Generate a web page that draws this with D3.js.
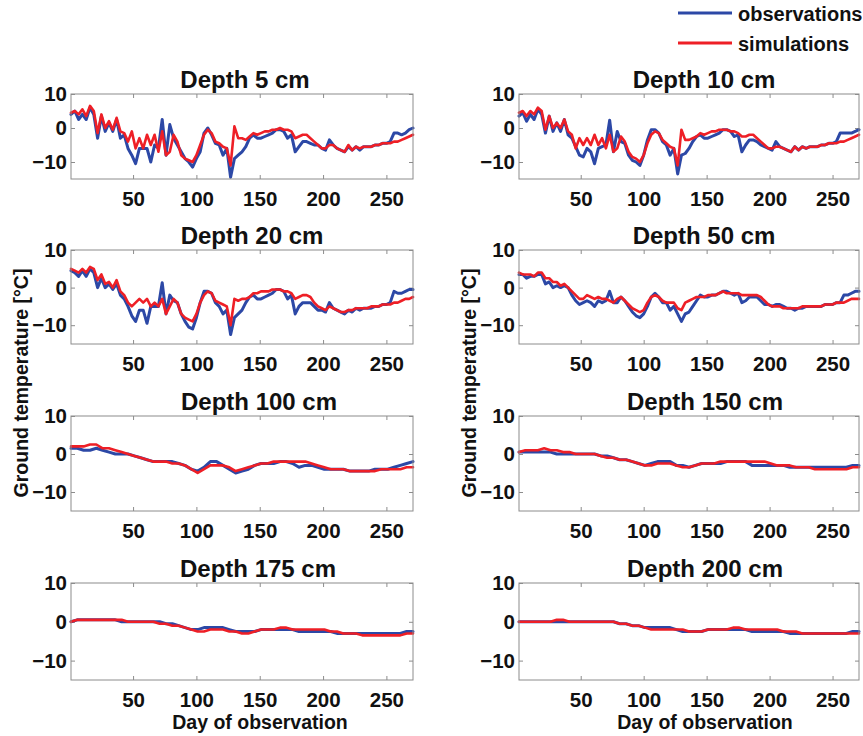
<!DOCTYPE html>
<html>
<head>
<meta charset="utf-8">
<script src="https://cdn.jsdelivr.net/npm/d3@7"></script>
<style>
  html, body { margin: 0; padding: 0; background: #fff; }
  svg { display: block; font-family: "Liberation Sans", Arial, Helvetica, sans-serif; font-weight: bold; }
</style>
</head>
<body>
<svg id="chart" width="863" height="736"></svg>
<script>
// ---- data -----------------------------------------------------------------
// shallow sensors sampled every 3 days, deep sensors every 5 days (day 1..271)
const fineDays   = d3.range(1, 272, 3);
const coarseDays = d3.range(1, 272, 5);

const xTicks = [50, 100, 150, 200, 250];
const yTicks = [10, 0, -10];
const dayDomain  = [1, 271];
const tempDomain = [-15, 10];

const seriesNames = ["observations", "simulations"];
const panelTitles = ["Depth 5 cm", "Depth 10 cm", "Depth 20 cm", "Depth 50 cm",
                     "Depth 100 cm", "Depth 150 cm", "Depth 175 cm", "Depth 200 cm"];

const obs5 = [
  4, 5, 2.5, 4, 2.5, 6, 4, -3, 3.5, -1,
  1.5, -1, 2.5, -3, -2, -6, -8, -10.5, -6, -6,
  -6, -10, -5, -6, 2.5, -8, 1, -3, -5, -7,
  -9, -10, -11.5, -9, -7, -1.5, 0, -2, -4.5, -5,
  -8, -6, -14.5, -9, -8, -7, -5.5, -3, -2, -3,
  -3, -2.5, -2, -1.5, -0.5, -0.5, -1, -3, -2, -7,
  -5.5, -4, -4, -4.5, -5, -5, -6, -6.5, -3.5, -5,
  -6, -6.5, -7, -5.5, -6.5, -5.5, -6.5, -5.5, -5.5, -5.5,
  -5, -5, -4.5, -4.5, -4, -1.5, -1.5, -2, -1.5, -0.5,
  0];
const sim5 = [
  4.5, 5, 4, 5.5, 3.5, 6.5, 5, -1.5, 4, 0,
  2, -0.5, 3, -1, -1.5, -4, -1, -6, -3, -6,
  -2, -5, -2, -7, -1, -8, -7, -2, -4, -8,
  -9, -9.5, -10, -8, -5, -2, -0.5, -1.5, -4, -4.5,
  -5.5, -6, -11, 0.5, -3, -3, -3.5, -2.5, -1.5, -2,
  -1.5, -1, -1, -0.5, -0.5, 0, -0.5, -0.5, -1, -3,
  -2.5, -2, -2, -3, -4, -5, -6, -6, -5, -5,
  -6, -6.5, -7, -5, -6.5, -5.5, -6, -5.5, -5.5, -5.5,
  -5, -5, -4.5, -4.5, -4.5, -4, -4, -3.5, -3, -2.5,
  -2];

const obs10 = [
  3.5, 4.5, 2, 4, 2.5, 5.5, 4, -1.5, 3.5, -1,
  1.5, -1, 2.5, -2, -3, -5.5, -8, -8.5, -6, -7,
  -10.5, -6, -5.5, -5, 2.3, -7, -1, -4, -4.5, -8,
  -9.5, -10, -11, -8, -3.5, -0.5, -0.5, -1.5, -4, -5,
  -8, -6, -13.5, -8, -7.5, -6, -4, -2.5, -2, -3,
  -3, -2.5, -2, -1.5, -0.5, -0.5, -1, -2.5, -2, -7,
  -5, -3.5, -3.5, -4, -5, -5.5, -6, -6.5, -4, -5.5,
  -6, -6.5, -7, -5.5, -6.5, -5.5, -6, -5.5, -5.5, -5.5,
  -5, -5, -4.5, -4.5, -4, -1.5, -1.5, -1.5, -1.5, -1,
  -0.5];
const sim10 = [
  4.5, 5, 3.5, 5, 4, 6, 5, -0.5, 3.5, 0,
  1.5, 0, 2.5, -1, -2, -6, -3, -5, -3, -5,
  -2, -5, -3, -6, -2, -7, -6, -2.5, -4, -7,
  -8.5, -9, -10, -8, -4.5, -2, -1, -1.5, -3.5, -4.5,
  -5.5, -6, -11, -0.5, -3.5, -3.5, -3, -2.5, -1.5, -2,
  -1.5, -1, -1, -0.5, -0.5, -0.5, -1, -1, -1.5, -2.5,
  -2.5, -2, -2, -3, -4, -5, -6, -6, -5.5, -5.5,
  -6, -6.5, -7, -5.5, -6.5, -5.5, -6, -5.5, -5.5, -5.5,
  -5, -5, -4.5, -4.5, -4.5, -4, -4, -3.5, -3, -2.5,
  -2];

const obs20 = [
  4.5, 4, 3, 4.5, 3, 5, 4, 0, 2.5, 0,
  1, -0.5, 1, -2, -3, -5, -7.5, -9, -6, -6,
  -9.5, -5, -5, -5, 1.3, -7, -2, -3.5, -4, -7,
  -9, -10.5, -11, -8, -4, -1, -1, -1.5, -4, -5,
  -7, -6, -12.5, -8, -7, -6, -4, -2.5, -2, -3,
  -3, -2.5, -2, -1.5, -0.5, -0.5, -1, -3, -2, -7,
  -5, -4, -4, -4, -5, -6, -6, -6.5, -4, -5.5,
  -6, -6.5, -7, -6, -6.5, -5.5, -6, -5.5, -5.5, -5.5,
  -5, -5, -4.5, -4.5, -4, -1, -1.5, -1.5, -1, -0.5,
  -0.5];
const sim20 = [
  5, 4.5, 4, 5, 4, 5.5, 5, 2, 3.5, 1,
  1.5, 0, 2, -1, -2, -4, -5, -4, -3, -4,
  -3, -5, -4, -5, -3, -7, -5, -3, -4, -7,
  -8, -8.5, -9, -7, -4, -2, -1, -1.5, -3.5, -4,
  -4.5, -5, -10, -3, -3.5, -3, -3, -2.5, -1.5, -1.5,
  -1, -1, -1, -0.5, -0.5, -0.5, -1, -1, -1.5, -3,
  -2.5, -2, -2, -2.5, -4, -5, -5.5, -6, -5, -5.5,
  -6, -6.5, -6.5, -6, -6, -5.5, -5.5, -5.5, -5.5, -5,
  -5, -5, -4.5, -4.5, -4.5, -4, -4, -3.5, -3, -3,
  -2.5];

const obs50 = [
  3.5, 3.5, 2.5, 3, 3, 3.5, 3.5, 1, 1.5, 0,
  0.5, 0, 0.5, 0, -2, -3.5, -4.5, -4, -3.5, -4,
  -5, -3.5, -4, -3.5, -1, -4, -4, -2.5, -3.5, -5,
  -6.5, -7.5, -8, -7, -5, -2.5, -1.5, -2.5, -4, -4,
  -6, -5, -7, -9, -7, -6.5, -5, -3.5, -2, -2.5,
  -2.5, -2, -2, -1.5, -1, -1, -1.5, -2, -1.5, -4,
  -3.5, -2.5, -2.5, -2.5, -3.5, -4.5, -4.5, -5, -4.5, -4.5,
  -5, -5.5, -5.5, -6, -5.5, -5.5, -5, -5, -5, -5,
  -5, -4.5, -4.5, -4.5, -4, -4, -2, -2, -1.5, -1,
  -1];
const sim50 = [
  4, 3.5, 3.5, 3.5, 3, 4, 4, 2.5, 2.5, 1.5,
  1.5, 0.5, 1, 0, -1, -2, -3, -3, -2, -2.5,
  -3, -2.5, -3, -3, -3.5, -4, -3, -2.5, -3.5, -4.5,
  -5.5, -6, -6.5, -6, -4, -2.5, -2, -2.5, -3.5, -4,
  -4, -4, -5.5, -6, -4, -3.5, -3, -2.5, -2.5, -2.5,
  -2, -2, -2, -1.5, -1, -1.5, -1.5, -1.5, -1.5, -2,
  -2, -2, -2, -2, -2.5, -3.5, -4.5, -5, -5, -5,
  -5.5, -5.5, -5.5, -5.5, -5.5, -5, -5, -5, -5, -5,
  -5, -4.5, -4.5, -4.5, -4, -4, -4, -3.5, -3, -3,
  -3];

const obs100 = [
  1.5, 1.5, 1, 1, 1.5, 1, 0.5, 0, 0, 0,
  -0.5, -1, -1.5, -2, -2, -2, -2, -2.5, -3, -4,
  -4.5, -3.5, -2, -2, -3, -4, -5, -4.5, -4, -3,
  -2.5, -2.5, -2.5, -2, -2, -2.5, -3.5, -3, -3, -3.5,
  -4, -4, -4, -4, -4.5, -4.5, -4.5, -4.5, -4, -4,
  -4, -3.5, -3, -2.5, -2];
const sim100 = [
  2, 2, 2, 2.5, 2.5, 1.5, 1.5, 1, 0.5, 0,
  -0.5, -1, -1.5, -2, -2, -2, -2.5, -2.5, -3, -4,
  -5, -4, -3, -3, -3, -3.5, -4.5, -4, -3.5, -3,
  -2.5, -2.5, -2, -2, -2, -2, -2, -2, -2.5, -3,
  -3.5, -4, -4, -4, -4.5, -4.5, -4.5, -4.5, -4.5, -4,
  -4, -4, -4, -3.5, -3.5];

const obs150 = [
  0.5, 0.5, 0.5, 0.5, 0.5, 0.5, 0, 0, 0, 0,
  0, 0, 0, -0.5, -0.5, -1, -1.5, -1.5, -2, -2.5,
  -3, -2.5, -2, -2, -2, -3, -3, -3.5, -3, -2.5,
  -2.5, -2.5, -2.5, -2, -2, -2, -2, -3, -3, -3,
  -3, -3, -3, -3.5, -3.5, -3.5, -3.5, -3.5, -3.5, -3.5,
  -3.5, -3.5, -3.5, -3, -3];
const sim150 = [
  0.5, 1, 1, 1, 1.5, 1, 1, 0.5, 0.5, 0,
  0, 0, 0, -0.5, -1, -1, -1.5, -1.5, -2, -2.5,
  -3, -3, -2.5, -2.5, -2.5, -3, -3.5, -3.5, -3, -2.5,
  -2.5, -2.5, -2, -2, -2, -2, -2, -2, -2, -2,
  -2.5, -3, -3, -3, -3.5, -3.5, -3.5, -4, -4, -4,
  -4, -4, -4, -3.5, -3.5];

const obs175 = [
  0, 0.5, 0.5, 0.5, 0.5, 0.5, 0.5, 0.5, 0, 0,
  0, 0, 0, 0, 0, -0.5, -0.5, -1, -1.5, -2,
  -2, -1.5, -1.5, -1.5, -1.5, -2, -2.5, -2.5, -2.5, -2.5,
  -2, -2, -2, -2, -2, -2, -2.5, -2.5, -2.5, -2.5,
  -2.5, -2.5, -3, -3, -3, -3, -3, -3, -3, -3,
  -3, -3, -3, -2.5, -2.5];
const sim175 = [
  0, 0.5, 0.5, 0.5, 0.5, 0.5, 0.5, 0.5, 0.5, 0,
  0, 0, 0, 0, -0.5, -0.5, -1, -1, -1.5, -2,
  -2.5, -2.5, -2, -2, -2, -2.5, -2.5, -3, -3, -2.5,
  -2, -2, -2, -1.5, -1.5, -2, -2, -2, -2, -2,
  -2, -2.5, -2.5, -3, -3, -3, -3.5, -3.5, -3.5, -3.5,
  -3.5, -3.5, -3.5, -3, -3];

const obs200 = [
  0, 0, 0, 0, 0, 0, 0, 0, 0, 0,
  0, 0, 0, 0, 0, 0, -0.5, -0.5, -1, -1,
  -1.5, -1.5, -1.5, -1.5, -1.5, -2, -2.5, -2.5, -2.5, -2.5,
  -2, -2, -2, -2, -2, -2, -2, -2.5, -2.5, -2.5,
  -2.5, -2.5, -2.5, -3, -3, -3, -3, -3, -3, -3,
  -3, -3, -3, -2.5, -2.5];
const sim200 = [
  0, 0, 0, 0, 0, 0, 0.5, 0.5, 0, 0,
  0, 0, 0, 0, 0, 0, -0.5, -0.5, -1, -1,
  -1.5, -2, -2, -2, -2, -2, -2, -2.5, -2.5, -2.5,
  -2, -2, -2, -2, -1.5, -1.5, -2, -2, -2, -2,
  -2, -2, -2.5, -2.5, -2.5, -3, -3, -3, -3, -3,
  -3, -3, -3, -3, -3];

// ---- layout ---------------------------------------------------------------
const W = 863, H = 736;
const colX = [[71, 413], [519, 859]];
const rowY = [[94, 179], [250, 344], [416, 511], [583, 680]];
const titleX = [245, 704, 252, 704, 259, 705, 258, 705];
const xLabelX = [260, 705];
const colors = { obs: "#2c48a6", sim: "#ee1f26", frame: "#8c8c8c", text: "#111" };

const panels = [
  { title: panelTitles[0], days: fineDays,   obs: obs5,   sim: sim5,   col: 0, row: 0 },
  { title: panelTitles[1], days: fineDays,   obs: obs10,  sim: sim10,  col: 1, row: 0 },
  { title: panelTitles[2], days: fineDays,   obs: obs20,  sim: sim20,  col: 0, row: 1 },
  { title: panelTitles[3], days: fineDays,   obs: obs50,  sim: sim50,  col: 1, row: 1 },
  { title: panelTitles[4], days: coarseDays, obs: obs100, sim: sim100, col: 0, row: 2 },
  { title: panelTitles[5], days: coarseDays, obs: obs150, sim: sim150, col: 1, row: 2 },
  { title: panelTitles[6], days: coarseDays, obs: obs175, sim: sim175, col: 0, row: 3 },
  { title: panelTitles[7], days: coarseDays, obs: obs200, sim: sim200, col: 1, row: 3 }
];

const svg = d3.select("#chart");
svg.append("rect").attr("width", W).attr("height", H).attr("fill", "#fff");

const tickFont = "20.5px";

panels.forEach((p, k) => {
  const [x0, x1] = colX[p.col];
  const [y0, y1] = rowY[p.row];
  const x = d3.scaleLinear().domain(dayDomain).range([x0, x1]);
  const y = d3.scaleLinear().domain(tempDomain).range([y1, y0]);
  const g = svg.append("g");

  g.append("rect")
    .attr("x", x0).attr("y", y0).attr("width", x1 - x0).attr("height", y1 - y0)
    .attr("fill", "#fff");

  // axes with inward ticks on all four sides
  const styleAxis = sel => {
    sel.select(".domain").remove();
    sel.selectAll(".tick line").attr("stroke", colors.frame).attr("stroke-width", 1);
    sel.selectAll(".tick text")
      .attr("fill", colors.text).style("font-size", tickFont).style("font-weight", "bold")
      .attr("font-family", null);
  };
  g.append("g").attr("transform", `translate(0,${y1})`)
    .call(d3.axisBottom(x).tickValues(xTicks).tickSize(-4).tickPadding(12))
    .call(styleAxis);
  g.append("g").attr("transform", `translate(0,${y0})`)
    .call(d3.axisTop(x).tickValues(xTicks).tickSize(-4).tickFormat(""))
    .call(styleAxis);
  g.append("g").attr("transform", `translate(${x0},0)`)
    .call(d3.axisLeft(y).tickValues(yTicks).tickSize(-4).tickPadding(4))
    .call(styleAxis);
  g.append("g").attr("transform", `translate(${x1},0)`)
    .call(d3.axisRight(y).tickValues(yTicks).tickSize(-4).tickFormat(""))
    .call(styleAxis);

  const line = d3.line().x(d => x(d[0])).y(d => y(d[1]));
  const obsPts = p.days.map((d, i) => [d, p.obs[i]]);
  const simPts = p.days.map((d, i) => [d, p.sim[i]]);

  g.append("path").datum(obsPts).attr("d", line)
    .attr("fill", "none").attr("stroke", colors.obs).attr("stroke-width", 3)
    .attr("stroke-linejoin", "round").attr("stroke-linecap", "round");
  g.append("path").datum(simPts).attr("d", line)
    .attr("fill", "none").attr("stroke", colors.sim).attr("stroke-width", 2.6)
    .attr("stroke-linejoin", "round").attr("stroke-linecap", "round");

  g.append("rect")
    .attr("x", x0).attr("y", y0).attr("width", x1 - x0).attr("height", y1 - y0)
    .attr("fill", "none").attr("stroke", colors.frame).attr("stroke-width", 1);

  g.append("text")
    .attr("x", titleX[k]).attr("y", y0 - 6)
    .attr("text-anchor", "middle").attr("fill", colors.text)
    .style("font-size", "24px")
    .text(p.title);
});

// axis titles
[0, 1].forEach(c => {
  svg.append("text")
    .attr("x", xLabelX[c]).attr("y", 729)
    .attr("text-anchor", "middle").attr("fill", colors.text)
    .style("font-size", "19.5px")
    .text("Day of observation");
});
[28, 476].forEach(bx => {
  svg.append("text")
    .attr("transform", `translate(${bx},383) rotate(-90)`)
    .attr("text-anchor", "middle").attr("fill", colors.text)
    .style("font-size", "19.5px")
    .text("Ground temperature [°C]");
});

// legend
const legend = svg.append("g");
[{ name: seriesNames[0], color: colors.obs, y: 13 },
 { name: seriesNames[1], color: colors.sim, y: 43 }].forEach(item => {
  legend.append("line")
    .attr("x1", 678).attr("x2", 732).attr("y1", item.y).attr("y2", item.y)
    .attr("stroke", item.color).attr("stroke-width", 3);
  legend.append("text")
    .attr("x", 738).attr("y", item.y + 8)
    .attr("fill", colors.text).style("font-size", "20px")
    .text(item.name);
});
</script>
</body>
</html>
